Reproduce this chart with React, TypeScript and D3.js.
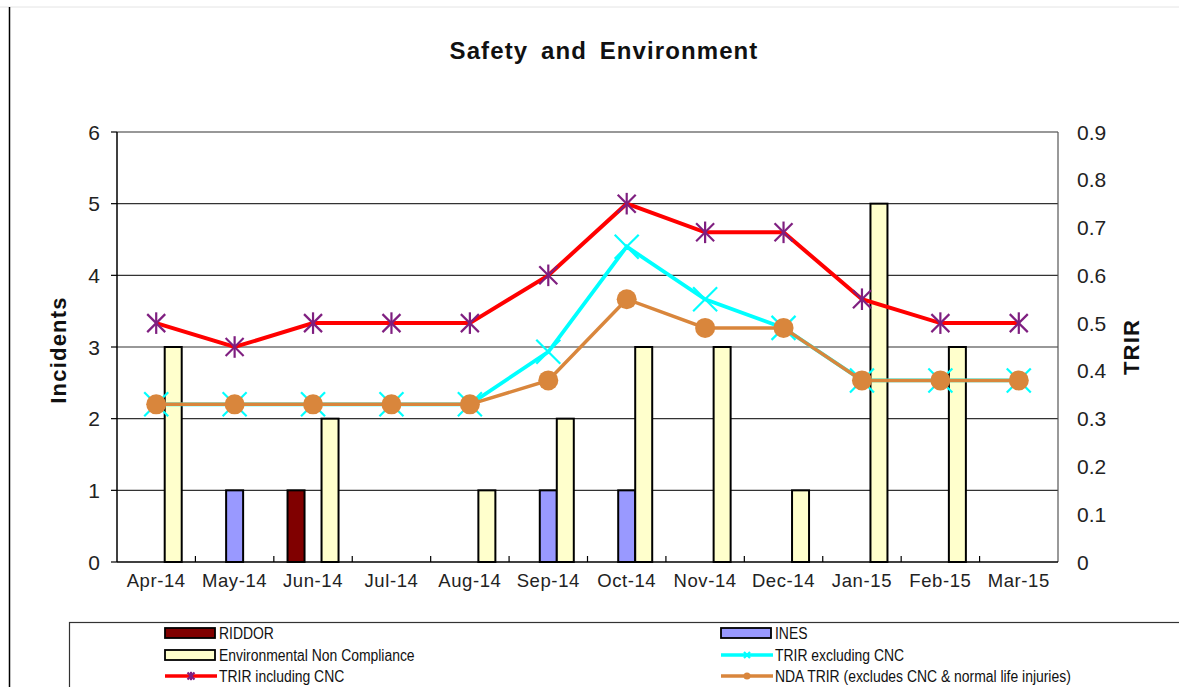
import React from "react";
import * as d3 from "d3";

const months = ["Apr-14", "May-14", "Jun-14", "Jul-14", "Aug-14", "Sep-14", "Oct-14", "Nov-14", "Dec-14", "Jan-15", "Feb-15", "Mar-15"];

// incidents (left axis)
const riddor = [0, 0, 1, 0, 0, 0, 0, 0, 0, 0, 0, 0];
const ines = [0, 1, 0, 0, 0, 1, 1, 0, 0, 0, 0, 0];
const envNonCompliance = [3, 0, 2, 0, 1, 2, 3, 3, 1, 5, 3, 0];

// TRIR (right axis)
const trirExclCnc = [0.33, 0.33, 0.33, 0.33, 0.33, 0.44, 0.66, 0.55, 0.49, 0.38, 0.38, 0.38];
const trirInclCnc = [0.5, 0.45, 0.5, 0.5, 0.5, 0.6, 0.75, 0.69, 0.69, 0.55, 0.5, 0.5];
const ndaTrir = [0.33, 0.33, 0.33, 0.33, 0.33, 0.38, 0.55, 0.49, 0.49, 0.38, 0.38, 0.38];

const leftTicks = [0, 1, 2, 3, 4, 5, 6];
const rightTicks = [0, 0.1, 0.2, 0.3, 0.4, 0.5, 0.6, 0.7, 0.8, 0.9];

const W = 1179;
const H = 687;
const plot = {left: 117, right: 1058, top: 132, bottom: 562};

const font = "'Liberation Sans', Arial, sans-serif";

const C = {
    riddor: "#800000",
    ines: "#9999ff",
    enc: "#ffffcc",
    cyan: "#00ffff",
    red: "#ff0000",
    purple: "#7f1f80",
    orange: "#d9863c"
};

function Star({x, y, r}: {x: number; y: number; r: number}) {
    return (
        <g stroke={C.purple} strokeWidth={2.2}>
            <line x1={x - r} y1={y - r} x2={x + r} y2={y + r}/>
            <line x1={x - r} y1={y + r} x2={x + r} y2={y - r}/>
            <line x1={x} y1={y - r * 1.2} x2={x} y2={y + r * 1.2}/>
        </g>
    );
}

function Cross({x, y, r}: {x: number; y: number; r: number}) {
    return (
        <g stroke={C.cyan} strokeWidth={2.2}>
            <line x1={x - r} y1={y - r} x2={x + r} y2={y + r}/>
            <line x1={x - r} y1={y + r} x2={x + r} y2={y - r}/>
        </g>
    );
}

export default function App() {
    const x = d3.scaleBand<string>().domain(months).range([plot.left, plot.right]);
    const yL = d3.scaleLinear().domain([0, 6]).range([plot.bottom, plot.top]);
    const yR = d3.scaleLinear().domain([0, 0.9]).range([plot.bottom, plot.top]);
    const cx = (m: string) => (x(m) as number) + x.bandwidth() / 2;
    const barW = 17;

    const line = d3.line<number>()
        .x((_, i) => cx(months[i]))
        .y(d => yR(d));

    const barSeries = [
        {data: riddor, fill: C.riddor, offset: -1},
        {data: ines, fill: C.ines, offset: 0},
        {data: envNonCompliance, fill: C.enc, offset: 1}
    ];

    const legendRows = [
        [{type: "bar", fill: C.riddor, label: "RIDDOR"}, {type: "bar", fill: C.ines, label: "INES"}],
        [{type: "bar", fill: C.enc, label: "Environmental Non Compliance"}, {type: "cyan", fill: C.cyan, label: "TRIR excluding CNC"}],
        [{type: "red", fill: C.red, label: "TRIR including CNC"}, {type: "orange", fill: C.orange, label: "NDA TRIR (excludes CNC & normal life injuries)"}]
    ];
    const legendCols = [165, 721];
    const legendY = [633, 655, 676];

    return (
        <svg width={W} height={H} style={{position: "absolute", left: 0, top: 0, background: "white"}}>
            <line x1={0} y1={7} x2={W} y2={7} stroke="#e4e4e4" strokeWidth={1}/>
            <line x1={9.5} y1={7} x2={9.5} y2={H} stroke="#000" strokeWidth={1.5}/>

            <text x={604} y={59} textAnchor="middle" fontFamily={font} fontWeight="bold" fontSize={24}
                  letterSpacing={1.1} wordSpacing={5} fill="#111">
                Safety and Environment
            </text>

            {/* gridlines */}
            {leftTicks.filter(t => t > 0).map(t => (
                <line key={t} x1={plot.left} x2={plot.right} y1={yL(t)} y2={yL(t)} stroke="#333" strokeWidth={1.2}/>
            ))}
            <line x1={plot.right} x2={plot.right} y1={plot.top} y2={plot.bottom} stroke="#555" strokeWidth={1.2}/>

            {/* bars */}
            {barSeries.map((s, si) => s.data.map((v, i) => v > 0 ? (
                <rect key={`${si}-${i}`}
                      x={cx(months[i]) + s.offset * barW - barW / 2}
                      y={yL(v)}
                      width={barW}
                      height={yL(0) - yL(v)}
                      fill={s.fill} stroke="#000" strokeWidth={2}/>
            ) : null))}

            {/* axes */}
            <line x1={plot.left} x2={plot.left} y1={plot.top} y2={plot.bottom} stroke="#000" strokeWidth={1.5}/>
            <line x1={plot.left} x2={plot.right} y1={plot.bottom} y2={plot.bottom} stroke="#000" strokeWidth={1.5}/>
            {leftTicks.map(t => (
                <g key={t}>
                    <line x1={plot.left - 6} x2={plot.left} y1={yL(t)} y2={yL(t)} stroke="#000" strokeWidth={1.2}/>
                    <text x={100} y={yL(t) + 7.5} textAnchor="end" fontFamily={font} fontSize={21} fill="#222">{t}</text>
                </g>
            ))}
            {months.slice(1).map(m => (
                <line key={m} x1={x(m)} x2={x(m)} y1={plot.bottom - 6} y2={plot.bottom} stroke="#000" strokeWidth={1.2}/>
            ))}
            {months.map(m => (
                <text key={m} x={cx(m)} y={587} textAnchor="middle" fontFamily={font} fontSize={18.5}
                      letterSpacing={0.6} fill="#222">{m}</text>
            ))}
            {rightTicks.map(t => (
                <text key={t} x={1077} y={yR(t) + 7.5} fontFamily={font} fontSize={21} fill="#222">{t}</text>
            ))}

            <text transform="translate(66,350) rotate(-90)" textAnchor="middle" fontFamily={font} fontWeight="bold"
                  fontSize={22} letterSpacing={1.2} fill="#111">Incidents</text>
            <text transform="translate(1139,347) rotate(-90)" textAnchor="middle" fontFamily={font} fontWeight="bold"
                  fontSize={22} letterSpacing={1.2} fill="#111">TRIR</text>

            {/* lines */}
            <path d={line(trirExclCnc) as string} fill="none" stroke={C.cyan} strokeWidth={3.8}/>
            {trirExclCnc.map((v, i) => <Cross key={i} x={cx(months[i])} y={yR(v)} r={12}/>)}

            <path d={line(trirInclCnc) as string} fill="none" stroke={C.red} strokeWidth={4}/>
            {trirInclCnc.map((v, i) => <Star key={i} x={cx(months[i])} y={yR(v)} r={9}/>)}

            <path d={line(ndaTrir) as string} fill="none" stroke={C.orange} strokeWidth={3.5}/>
            {ndaTrir.map((v, i) => <circle key={i} cx={cx(months[i])} cy={yR(v)} r={10} fill={C.orange}/>)}

            {/* legend */}
            <rect x={69.5} y={622.5} width={W} height={70} fill="white" stroke="#333" strokeWidth={1.2}/>
            {legendRows.map((row, ri) => row.map((item, ci) => {
                const lx = legendCols[ci];
                const ly = legendY[ri];
                return (
                    <g key={`${ri}-${ci}`}>
                        {item.type === "bar" && (
                            <rect x={lx} y={ly - 5} width={50} height={10} fill={item.fill} stroke="#000" strokeWidth={1.8}/>
                        )}
                        {item.type === "cyan" && (
                            <g>
                                <line x1={lx} x2={lx + 52} y1={ly} y2={ly} stroke={C.cyan} strokeWidth={3.5}/>
                                <Cross x={lx + 26} y={ly} r={3}/>
                            </g>
                        )}
                        {item.type === "red" && (
                            <g>
                                <line x1={lx} x2={lx + 52} y1={ly} y2={ly} stroke={C.red} strokeWidth={3.5}/>
                                <Star x={lx + 26} y={ly} r={3.5}/>
                            </g>
                        )}
                        {item.type === "orange" && (
                            <g>
                                <line x1={lx} x2={lx + 52} y1={ly} y2={ly} stroke={C.orange} strokeWidth={3.5}/>
                                <circle cx={lx + 26} cy={ly} r={3.5} fill={C.orange}/>
                            </g>
                        )}
                        <text transform={`translate(${lx + 54},${ly + 5.5}) scale(0.87,1)`} fontFamily={font}
                              fontSize={16} fill="#111">{item.label}</text>
                    </g>
                );
            }))}
        </svg>
    );
}
